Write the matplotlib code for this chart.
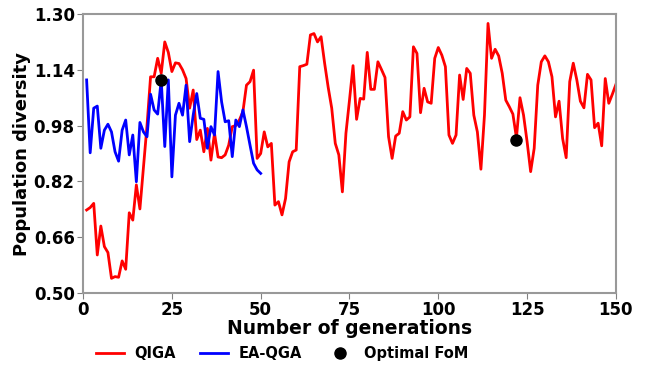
import matplotlib.pyplot as plt
import numpy as np

# population diversity per generation
qiga = [0.738, 0.745, 0.757, 0.609, 0.692, 0.633, 0.616, 0.542, 0.547, 0.545,
        0.592, 0.568, 0.730, 0.709, 0.810, 0.741, 0.862, 0.980, 1.120, 1.120,
        1.173, 1.130, 1.220, 1.190, 1.135, 1.160, 1.158, 1.140, 1.115, 1.030,
        1.082, 0.940, 0.967, 0.905, 0.972, 0.881, 0.958, 0.890, 0.888, 0.896,
        0.924, 0.977, 0.980, 0.996, 1.020, 1.096, 1.106, 1.139, 0.886, 0.900,
        0.962, 0.919, 0.929, 0.752, 0.762, 0.724, 0.771, 0.876, 0.905, 0.910,
        1.149, 1.152, 1.156, 1.240, 1.244, 1.220, 1.235, 1.159, 1.090, 1.030,
        0.929, 0.896, 0.790, 0.958, 1.053, 1.152, 0.998, 1.058, 1.056, 1.190,
        1.084, 1.084, 1.163, 1.141, 1.118, 0.948, 0.886, 0.950, 0.958, 1.020,
        0.996, 1.005, 1.206, 1.187, 1.017, 1.087, 1.048, 1.044, 1.173, 1.204,
        1.182, 1.149, 0.953, 0.929, 0.953, 1.125, 1.055, 1.144, 1.130, 1.010,
        0.962, 0.855, 1.010, 1.273, 1.173, 1.199, 1.180, 1.130, 1.053, 1.034,
        1.013, 0.945, 1.060, 1.010, 0.934, 0.848, 0.915, 1.096, 1.163, 1.180,
        1.163, 1.120, 1.005, 1.050, 0.943, 0.888, 1.106, 1.159, 1.111, 1.050,
        1.031, 1.127, 1.111, 0.974, 0.987, 0.922, 1.115, 1.044, 1.070, 1.098]

eaqga = [1.111, 0.902, 1.030, 1.036, 0.915, 0.967, 0.984, 0.962, 0.905, 0.878,
         0.967, 0.996, 0.896, 0.953, 0.819, 0.989, 0.962, 0.948, 1.070, 1.025,
         1.013, 1.111, 0.920, 1.111, 0.833, 1.010, 1.044, 1.010, 1.096, 0.934,
         1.010, 1.072, 1.001, 0.998, 0.915, 0.977, 0.953, 1.135, 1.048, 0.991,
         0.994, 0.891, 0.996, 0.977, 1.025, 0.977, 0.924, 0.872, 0.853, 0.843]

opt_gen = [22, 122]
opt_val = [1.111, 0.940]

gen_q = np.arange(1, len(qiga) + 1)
gen_e = np.arange(1, len(eaqga) + 1)

fig = plt.figure(figsize=(6.49, 3.69), dpi=100)
ax = fig.add_axes([0.128, 0.206, 0.821, 0.756])

ax.plot(gen_q, qiga, color='red', lw=2, label='QIGA')
ax.plot(gen_e, eaqga, color='blue', lw=2, label='EA-QGA')
ax.plot(opt_gen, opt_val, 'o', color='black', ms=8, ls='none',
        label='Optimal FoM', zorder=5)

ax.set_xlim(0, 150)
ax.set_ylim(0.5, 1.3)
ax.set_xticks([0, 25, 50, 75, 100, 125, 150])
ax.set_yticks([0.50, 0.66, 0.82, 0.98, 1.14, 1.30])
ax.set_yticklabels(['0.50', '0.66', '0.82', '0.98', '1.14', '1.30'])
for lab in ax.get_xticklabels() + ax.get_yticklabels():
    lab.set_fontweight('bold')
    lab.set_fontsize(12)
ax.tick_params(color='gray', length=4, pad=2)
for sp in ax.spines.values():
    sp.set_color('#999999')
    sp.set_linewidth(1.5)

ax.set_xlabel('Number of generations', fontsize=13.5, fontweight='bold', labelpad=0)
ax.set_ylabel('Population diversity', fontsize=13, fontweight='bold', labelpad=2)

fig.legend(loc='lower center', bbox_to_anchor=(0.435, -0.015), ncol=3,
           frameon=False, prop={'weight': 'bold', 'size': 10.5},
           columnspacing=1.7, handlelength=1.9, handletextpad=0.7)

fig.savefig('out.png', dpi=100)
